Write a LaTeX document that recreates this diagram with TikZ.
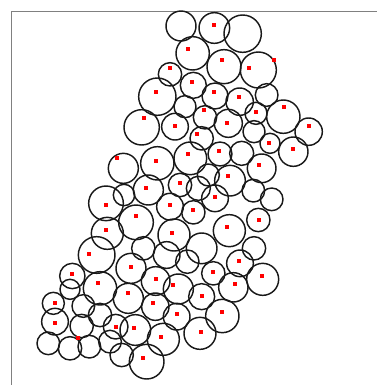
\documentclass[tikz,border=0pt]{standalone}
\begin{document}
\begin{tikzpicture}[x=0.333333pt,y=-0.333333pt,
  ring/.style={draw=black!90,line width=1.45pt},
  dotmark/.style={fill=red,draw=none}]
\useasboundingbox (0,0) rectangle (1131,1155);
\fill[white] (0,0) rectangle (1131,1155);
\draw[gray,line width=1pt] (35,1155) -- (35,33) -- (1131,33);
\foreach \x/\y/\r in {
543/78/45, 643/84/46, 728/101/56, 578/160/50, 672/200/51, 775/210/54,
510/223/35, 580/256/39, 472/290/56, 645/288/39, 719/305/41, 800/285/34,
555/320/33, 615/352/35, 768/340/33, 850/350/50, 425/382/53, 525/380/40,
685/370/42, 926/395/41, 605/415/35, 762/395/33, 810/430/30, 880/455/44,
660/462/36, 725/460/36, 571/475/49, 472/490/50, 370/505/45, 785/505/43,
690/542/46, 540/555/35, 595/565/36, 625/525/33, 445/570/45, 645/595/40, 760/572/34,
815/598/34, 318/610/52, 372/585/32, 510/620/40, 580/637/35, 408/667/52,
775/660/35, 688/692/48, 322/700/48, 522/705/48, 605/745/46, 430/745/35,
500/765/40, 762/745/35, 290/765/55, 562/785/35, 720/790/40, 393/805/45,
217/828/38, 640/820/35, 788/838/48, 300/865/50, 467/843/43, 535/867/45,
700/862/44, 210/868/30, 385/895/45, 605/890/39, 160/910/33, 250/918/34,
466/920/41, 667/948/50, 530/950/40, 165/965/40, 245/978/35, 300/945/35,
347/980/37, 406/990/46, 490/1018/48, 600/1000/48, 145/1030/34, 210/1045/35,
268/1040/34, 330/1025/34, 365/1065/35, 440/1085/52}
  \draw[ring] (\x,\y) circle[radius=\r];
\foreach \x/\y in {
641/75, 565/146, 667/180, 747/205, 822/180, 510/205, 575/246, 468/277,
641/277, 716/292, 612/330, 768/337, 852/322, 432/353, 525/378, 681/368,
928/378, 590/402, 808/428, 878/447, 656/453, 564/463, 468/484, 352/473,
778/494, 685/528, 540/548, 437/563, 645/590, 318/615, 510/615, 580/630,
408/647, 778/660, 682/680, 318/690, 515/700, 268/763, 717/782, 393/800,
215/822, 640/817, 787/828, 295/848, 468/838, 520/855, 705/853, 384/878,
605/888, 165/908, 459/908, 665/937, 530/943, 165/970, 348/980, 403/985,
483/1012, 604/995, 234/1015, 428/1075}
  \fill[dotmark] (\x,\y) ++(-2pt,-2pt) rectangle ++(4pt,4pt);
\end{tikzpicture}
\end{document}
